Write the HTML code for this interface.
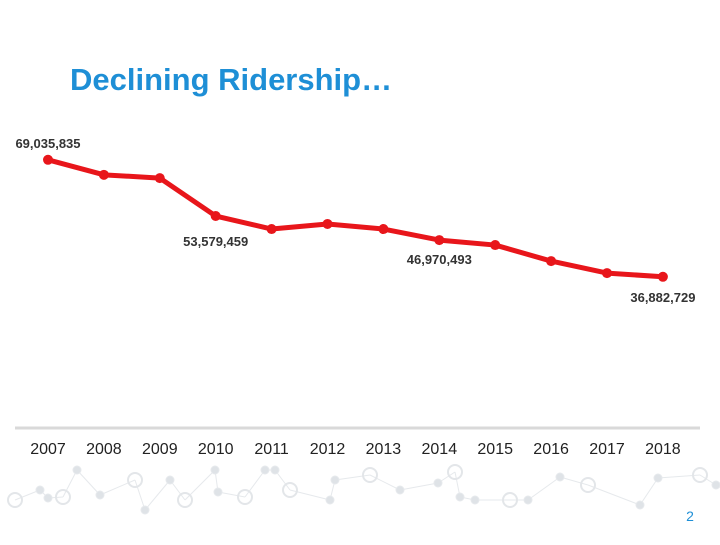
<!DOCTYPE html>
<html><head><meta charset="utf-8"><style>
body{margin:0;background:#fff;width:720px;height:540px;overflow:hidden;font-family:"Liberation Sans",sans-serif}
</style></head><body>
<svg width="720" height="540" viewBox="0 0 720 540">
<g id="bg" stroke="#e6e9ec" fill="#dfe3e7" stroke-width="1"></g>
<text x="70" y="90" font-size="31" font-weight="bold" fill="#1e8fd6">Declining Ridership…</text>
<line x1="15" y1="428" x2="700" y2="428" stroke="#d9d9d9" stroke-width="3"/>
<g id="xt"></g>
<g id="series"></g>
<g id="labels"></g>
<text x="690" y="521" font-size="14" fill="#1e8fd6" text-anchor="middle">2</text>
</svg>
<script>
const categories=["2007","2008","2009","2010","2011","2012","2013","2014","2015","2016","2017","2018"];
const ridership=[69035835,64900000,64000000,53579459,50000000,51400000,50000000,46970493,45600000,41200000,37900000,36882729];
const labelIdx=[0,3,7,11];
const labelText=["69,035,835","53,579,459","46,970,493","36,882,729"];
const NS="http://www.w3.org/2000/svg";
function X(i){return 48+i*55.9;}
function Y(v){return 411-v/1e6*3.639;}
const xt=document.getElementById('xt'),se=document.getElementById('series'),lb=document.getElementById('labels');
categories.forEach((c,i)=>{const t=document.createElementNS(NS,'text');
t.setAttribute('x',X(i));t.setAttribute('y',454);t.setAttribute('text-anchor','middle');t.setAttribute('font-size','16');t.setAttribute('fill','#222');t.textContent=c;


xt.appendChild(t);});
const pl=document.createElementNS(NS,'polyline');
pl.setAttribute('points',ridership.map((v,i)=>X(i)+','+Y(v)).join(' '));
pl.setAttribute('fill','none');pl.setAttribute('stroke','#e8161b');pl.setAttribute('stroke-width','5');pl.setAttribute('stroke-linejoin','round');


se.appendChild(pl);
ridership.forEach((v,i)=>{const c=document.createElementNS(NS,'circle');
c.setAttribute('cx',X(i));c.setAttribute('cy',Y(v));c.setAttribute('r','5');c.setAttribute('fill','#e8161b');


se.appendChild(c);});
const offs=[-12,30,24,25];
labelIdx.forEach((k,j)=>{const t=document.createElementNS(NS,'text');
t.setAttribute('x',X(k));t.setAttribute('y',Y(ridership[k])+offs[j]);t.setAttribute('text-anchor','middle');t.setAttribute('font-size','13');t.setAttribute('font-weight','bold');t.setAttribute('fill','#333');t.textContent=labelText[j];


lb.appendChild(t);});
const bg=document.getElementById('bg');
const pts=[[15,500],[40,490],[48,498],[63,497],[77,470],[100,495],[135,480],[145,510],[170,480],[185,500],[215,470],[218,492],[245,497],[265,470],[275,470],[290,490],[330,500],[335,480],[370,475],[400,490],[438,483],[455,472],[460,497],[475,500],[510,500],[528,500],[560,477],[588,485],[640,505],[658,478],[700,475],[716,485]];
for(let i=0;i<pts.length-1;i++){const l=document.createElementNS(NS,'line');l.setAttribute('x1',pts[i][0]);l.setAttribute('y1',pts[i][1]);l.setAttribute('x2',pts[i+1][0]);l.setAttribute('y2',pts[i+1][1]);bg.appendChild(l);}
pts.forEach((p,i)=>{const c=document.createElementNS(NS,'circle');c.setAttribute('cx',p[0]);c.setAttribute('cy',p[1]);c.setAttribute('r',i%3==0?7:4);if(i%3==0){c.setAttribute('fill','none');c.setAttribute('stroke','#e3e6e9');c.setAttribute('stroke-width','2');}bg.appendChild(c);});
</script>
</body></html>
